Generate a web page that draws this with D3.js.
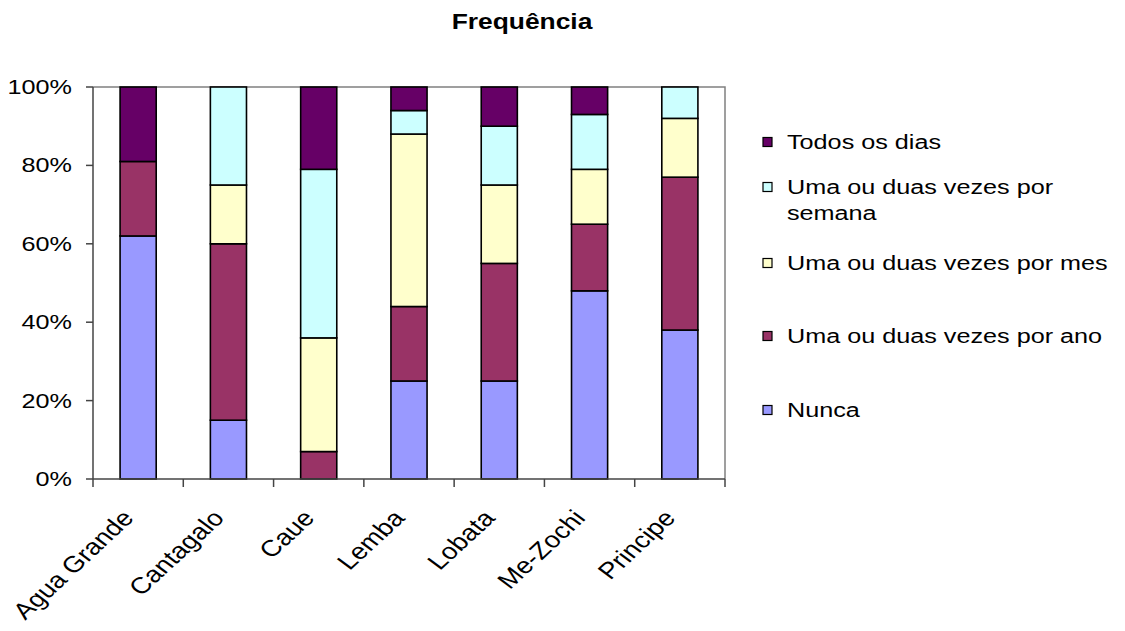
<!DOCTYPE html>
<html>
<head>
<meta charset="utf-8">
<script src="https://cdn.jsdelivr.net/npm/d3@7"></script>
<style>
  body { margin: 0; background: #fff; }
  text { font-family: "Liberation Sans", Arial, sans-serif; fill: #000; }
</style>
</head>
<body>
<svg id="chart" width="1125" height="631"></svg>
<script>
// data (percent of answers)
var categories = ["Agua Grande", "Cantagalo", "Caue", "Lemba", "Lobata", "Me-Zochi", "Principe"];
var nunca  = [62, 15, 0, 25, 25, 48, 38];
var ano    = [19, 45, 7, 19, 30, 17, 39];
var mes    = [0, 15, 29, 44, 20, 14, 15];
var semana = [0, 25, 43, 6, 15, 14, 8];
var todos  = [19, 0, 21, 6, 10, 7, 0];
var yTicks = [0, 20, 40, 60, 80, 100];

var seriesKeys = ["nunca", "ano", "mes", "semana", "todos"];
var colors = ["#9999ff", "#993366", "#ffffcc", "#ccffff", "#660066"];

var rows = categories.map(function (c, i) {
    return { cat: c, nunca: nunca[i], ano: ano[i], mes: mes[i], semana: semana[i], todos: todos[i] };
});

var svg = d3.select("#chart");
var sx = 1.2; // picture looks stretched sideways

var pLeft = 93, pRight = 725, pTop = 87, pBottom = 479;

var x = d3.scaleBand().domain(categories).range([pLeft, pRight]).paddingInner(0.6).paddingOuter(0.3);
var y = d3.scaleLinear().domain([0, 100]).range([pBottom, pTop]);

function stext(g, tx, ty, str, anchor, extra) {
    return g.append("text")
        .attr("transform", "translate(" + tx + "," + ty + ") scale(" + sx + ",1)" + (extra || ""))
        .attr("text-anchor", anchor)
        .text(str);
}

// title
stext(svg, 522, 29, "Frequência", "middle").style("font-size", "22px").style("font-weight", "bold");

// plot frame (top and right)
svg.append("path")
    .attr("d", "M" + pLeft + "," + pTop + "H" + pRight + "V" + pBottom)
    .attr("fill", "none").attr("stroke", "#808080").attr("stroke-width", 1.5);

var stack = d3.stack().keys(seriesKeys)(rows);

svg.append("g").selectAll("g")
    .data(stack)
    .join("g")
    .attr("fill", function (d, i) { return colors[i]; })
    .selectAll("rect")
    .data(function (d) { return d; })
    .join("rect")
    .attr("x", function (d) { return x(d.data.cat); })
    .attr("width", x.bandwidth())
    .attr("y", function (d) { return y(d[1]); })
    .attr("height", function (d) { return y(d[0]) - y(d[1]); })
    .attr("stroke", "#000")
    .attr("stroke-width", 1.6);

// y axis
var yAxis = svg.append("g");
yAxis.append("line").attr("x1", pLeft).attr("x2", pLeft).attr("y1", pTop).attr("y2", pBottom)
    .attr("stroke", "#444").attr("stroke-width", 1.5);
yTicks.forEach(function (t) {
    yAxis.append("line").attr("x1", pLeft - 7).attr("x2", pLeft).attr("y1", y(t)).attr("y2", y(t))
        .attr("stroke", "#444").attr("stroke-width", 1.5);
    stext(yAxis, 72, y(t) + 7, t + "%", "end").style("font-size", "21px");
});

// x axis
var xAxis = svg.append("g");
xAxis.append("line").attr("x1", pLeft).attr("x2", pRight).attr("y1", pBottom).attr("y2", pBottom)
    .attr("stroke", "#444").attr("stroke-width", 1.5);
d3.range(categories.length + 1).forEach(function (i) {
    var tx = pLeft + i * (pRight - pLeft) / categories.length;
    xAxis.append("line").attr("x1", tx).attr("x2", tx).attr("y1", pBottom).attr("y2", pBottom + 8)
        .attr("stroke", "#444").attr("stroke-width", 1.5);
});
categories.forEach(function (c) {
    var cx = x(c) + x.bandwidth() / 2;
    stext(xAxis, cx - 3, 519, c, "end", " rotate(-48)").style("font-size", "23px");
});

// legend (top series first)
var legendItems = [
    { i: 4, lines: ["Todos os dias"], y: 142 },
    { i: 3, lines: ["Uma ou duas vezes por", "semana"], y: 187 },
    { i: 2, lines: ["Uma ou duas vezes por mes"], y: 263 },
    { i: 1, lines: ["Uma ou duas vezes por ano"], y: 336 },
    { i: 0, lines: ["Nunca"], y: 410 }
];
var legend = svg.append("g");
legendItems.forEach(function (it) {
    legend.append("rect").attr("x", 763).attr("y", it.y - 4.5).attr("width", 9).attr("height", 9)
        .attr("fill", colors[it.i]).attr("stroke", "#000").attr("stroke-width", 1.2);
    it.lines.forEach(function (l, k) {
        stext(legend, 787, it.y + 7 + k * 26, l, "start").style("font-size", "21px");
    });
});
</script>
</body>
</html>
